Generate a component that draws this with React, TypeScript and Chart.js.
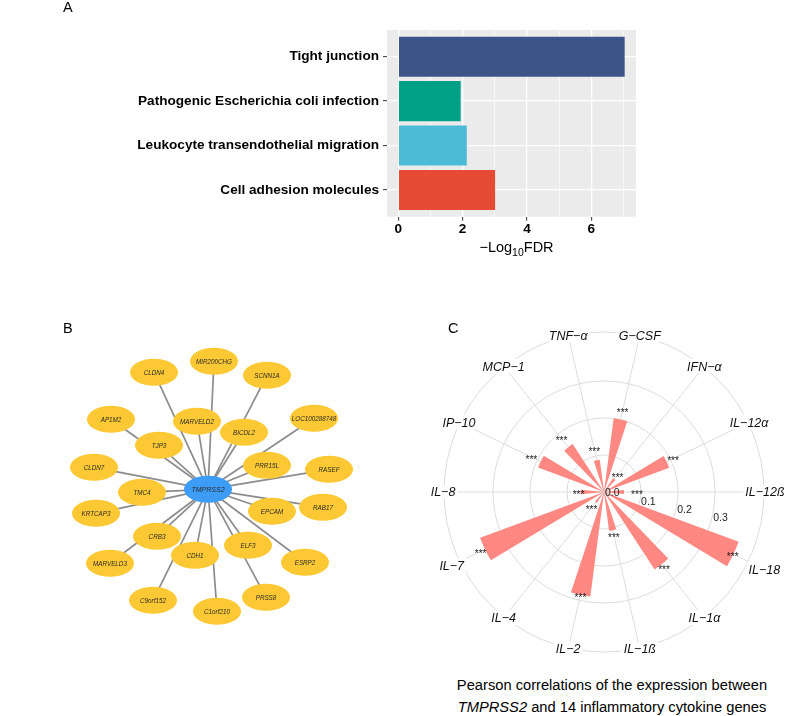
import React, { useEffect, useRef } from 'react';
import { Chart, registerables } from 'chart.js';

Chart.register(...registerables);

const FONT = "'Liberation Sans', Arial, Helvetica, sans-serif";

// ---------- Panel A: KEGG enrichment ----------
const pathways = [
  'Tight junction',
  'Pathogenic Escherichia coli infection',
  'Leukocyte transendothelial migration',
  'Cell adhesion molecules',
];
const negLog10FDR = [7.04, 1.94, 2.13, 3.01];
const pathwayColors = ['#3C5488', '#00A087', '#4DBBD5', '#E64B35'];
const fdrTickLabels = [0, 2, 4, 6];

// ---------- Panel B: co-expression network ----------
const hubGene = 'TMPRSS2';
const partnerGenes = [
  'MIR200CHG', 'CLDN4', 'SCNN1A', 'AP1M2', 'MARVELD2', 'LOC100288748', 'BICDL2',
  'TJP3', 'CLDN7', 'PRR15L', 'RASEF', 'TMC4', 'KRTCAP3', 'RAB17', 'EPCAM',
  'CRB3', 'ELF3', 'CDH1', 'MARVELD3', 'ESRP2', 'C9orf152', 'PRSS8', 'C1orf210',
];
// layout coordinates of the partner nodes (hub at 0,0)
const partnerX = [6, -54, 59, -97, -11, 106, 36, -49, -114, 59, 121, -66, -112, 115, 64, -51, 40, -13, -98, 97, -55, 58, 9];
const partnerY = [-128, -117, -114, -70, -68, -71, -57, -44, -22, -24, -20, 3, 24, 18, 22, 47, 56, 66, 74, 73, 111, 108, 122];

// ---------- Panel C: Pearson correlations ----------
const cytokines = [
  'G−CSF', 'IFN−α', 'IL−12α', 'IL−12ß', 'IL−18', 'IL−1α', 'IL−1ß',
  'IL−2', 'IL−4', 'IL−7', 'IL−8', 'IP−10', 'MCP−1', 'TNF−α',
];
const pearsonR = [0.201, 0.045, 0.188, 0.054, 0.388, 0.25, 0.106, 0.285, 0.035, 0.357, 0.063, 0.19, 0.155, 0.088];
const starR = [0.226, 0.059, 0.207, 0.089, 0.386, 0.26, 0.12, 0.286, 0.054, 0.37, 0.069, 0.218, 0.184, 0.118];
const significance = ['***', '***', '***', '***', '***', '***', '***', '***', '***', '***', '***', '***', '***', '***'];
const rTicks = [0, 0.1, 0.2, 0.3];
const rOuter = 0.4324;

// styling constants
const SECTOR = 360 / cytokines.length;
const BAR_W = 10.8;
const labelNudge = [0, 0, 0, 0, 17, 0, 0, 0, 0, 8, 0, 0, 0, 0];

const panelBgPlugin = {
  id: 'panelBg',
  beforeDraw(chart: any) {
    const { ctx, chartArea } = chart;
    ctx.save();
    ctx.fillStyle = '#EBEBEB';
    ctx.fillRect(chartArea.left, chartArea.top, chartArea.right - chartArea.left, chartArea.bottom - chartArea.top);
    ctx.restore();
  },
};

const fdrTitlePlugin = {
  id: 'fdrTitle',
  afterDraw(chart: any) {
    const { ctx, chartArea } = chart;
    const p1 = '−Log', sub = '10', p2 = 'FDR';
    const fMain = `14.5px ${FONT}`;
    const fSub = `10.5px ${FONT}`;
    ctx.save();
    ctx.font = fMain;
    const w1 = ctx.measureText(p1).width;
    const w3 = ctx.measureText(p2).width;
    ctx.font = fSub;
    const w2 = ctx.measureText(sub).width;
    const cx = (chartArea.left + chartArea.right) / 2 + 5;
    let x = cx - (w1 + w2 + w3) / 2;
    const y = chartArea.bottom + 35;
    ctx.fillStyle = '#000';
    ctx.textAlign = 'left';
    ctx.textBaseline = 'alphabetic';
    ctx.font = fMain;
    ctx.fillText(p1, x, y);
    x += w1;
    ctx.font = fSub;
    ctx.fillText(sub, x, y + 4);
    x += w2;
    ctx.font = fMain;
    ctx.fillText(p2, x, y);
    ctx.restore();
  },
};

const nodePlugin = {
  id: 'nodes',
  afterDatasetsDraw(chart: any) {
    const { ctx } = chart;
    const meta = chart.getDatasetMeta(chart.data.datasets.length - 1);
    const names = [hubGene, ...partnerGenes];
    ctx.save();
    meta.data.forEach((pt: any, i: number) => {
      const hub = i === 0;
      ctx.beginPath();
      ctx.ellipse(pt.x, pt.y, 24, 13.5, 0, 0, Math.PI * 2);
      ctx.fillStyle = hub ? '#3D9DF6' : '#FCC934';
      ctx.fill();
      ctx.fillStyle = '#2a2a2a';
      ctx.font = hub ? `italic 7px ${FONT}` : `italic 6.3px ${FONT}`;
      ctx.textAlign = 'center';
      ctx.textBaseline = 'middle';
      ctx.fillText(names[i], pt.x, pt.y + 0.5);
    });
    ctx.restore();
  },
};

const polarTextPlugin = {
  id: 'polarText',
  afterDraw(chart: any) {
    const scale = chart.scales.r;
    const { ctx } = chart;
    ctx.save();
    // significance stars
    ctx.font = `10px ${FONT}`;
    ctx.fillStyle = '#1a1a1a';
    ctx.textAlign = 'center';
    ctx.textBaseline = 'alphabetic';
    cytokines.forEach((_, k) => {
      const p = scale.getPointPositionForValue(2 * k + 1, starR[k]);
      ctx.fillText(significance[k], p.x, p.y + 5.6);
    });
    // radial value labels, between IL-12ß and IL-18
    const rLabelIndex = 8;
    ctx.font = `10.5px ${FONT}`;
    ctx.fillStyle = '#222';
    ctx.textAlign = 'left';
    ctx.textBaseline = 'middle';
    rTicks.forEach((v) => {
      const p = scale.getPointPositionForValue(rLabelIndex, v);
      ctx.fillText(v.toFixed(1), p.x + 1, p.y + 1.5);
    });
    // category labels
    ctx.font = `italic 12.5px ${FONT}`;
    ctx.textAlign = 'center';
    ctx.textBaseline = 'middle';
    const outer = scale.getDistanceFromCenterForValue(rOuter);
    cytokines.forEach((c, k) => {
      const p = scale.getPointPosition(2 * k + 1, outer + 1 + labelNudge[k]);
      const w = ctx.measureText(c).width;
      ctx.fillStyle = '#fff';
      ctx.fillRect(p.x - w / 2 - 2, p.y - 7, w + 4, 14);
      ctx.fillStyle = '#111';
      ctx.fillText(c, p.x, p.y + 1);
    });
    ctx.restore();
  },
};

export default function App() {
  const aRef = useRef<HTMLCanvasElement>(null);
  const bRef = useRef<HTMLCanvasElement>(null);
  const cRef = useRef<HTMLCanvasElement>(null);

  useEffect(() => {
    const isEven = (c: any) => c.tick && fdrTickLabels.includes(c.tick.value);

    const chartA = new Chart(aRef.current as HTMLCanvasElement, {
      type: 'bar',
      data: {
        datasets: [
          {
            data: pathways.map((_, i) => ({ x: negLog10FDR[i], y: i })),
            backgroundColor: pathwayColors,
            borderWidth: 0,
            barPercentage: 0.9,
            categoryPercentage: 1,
          },
        ],
      },
      options: {
        indexAxis: 'y',
        animation: false,
        responsive: false,
        devicePixelRatio: 1,
        layout: { padding: { top: 30, right: 151, left: 0, bottom: 0 } },
        plugins: { legend: { display: false }, tooltip: { enabled: false } },
        scales: {
          x: {
            type: 'linear',
            min: -0.352,
            max: 7.392,
            border: { display: false },
            grid: {
              color: '#FFFFFF',
              lineWidth: (c: any) => (isEven(c) ? 1.3 : 0.6),
              tickColor: (c: any) => (isEven(c) ? '#333333' : 'rgba(0,0,0,0)'),
              tickLength: 4,
              tickWidth: 1,
            },
            ticks: {
              stepSize: 1,
              includeBounds: false,
              autoSkip: false,
              maxRotation: 0,
              padding: 0,
              color: '#000',
              font: { family: FONT, size: 13.6, weight: 'bold' },
              callback: (v: any) => (fdrTickLabels.includes(v) ? String(v) : ''),
            },
            afterFit: (s: any) => {
              s.height = 53.3;
            },
          },
          y: {
            type: 'linear',
            reverse: true,
            min: -0.6,
            max: 3.6,
            offset: false,
            border: { display: false },
            grid: { color: '#FFFFFF', lineWidth: 1.3, offset: false, tickColor: '#333333', tickLength: 4, tickWidth: 1 },
            ticks: {
              stepSize: 1,
              includeBounds: false,
              autoSkip: false,
              padding: 4,
              color: '#000',
              font: { family: FONT, size: 13.6, weight: 'bold' },
              callback: (v: any) => pathways[v] ?? '',
            },
            afterFit: (s: any) => {
              s.width = 387;
            },
          },
        },
      } as any,
      plugins: [panelBgPlugin, fdrTitlePlugin],
    });

    const chartB = new Chart(bRef.current as HTMLCanvasElement, {
      type: 'scatter',
      data: {
        datasets: [
          ...partnerGenes.map((_, i) => ({
            data: [
              { x: 0, y: 0 },
              { x: partnerX[i], y: partnerY[i] },
            ],
            showLine: true,
            borderColor: '#8C8C8C',
            borderWidth: 1.7,
            pointRadius: 0,
          })),
          {
            data: [{ x: 0, y: 0 }, ...partnerGenes.map((_, i) => ({ x: partnerX[i], y: partnerY[i] }))],
            pointRadius: 0,
            showLine: false,
          },
        ],
      },
      options: {
        animation: false,
        responsive: false,
        devicePixelRatio: 1,
        layout: { padding: 0 },
        plugins: { legend: { display: false }, tooltip: { enabled: false } },
        scales: {
          x: { type: 'linear', display: false, min: -148, max: 152 },
          y: { type: 'linear', display: false, min: -149.3, max: 150.7, reverse: true },
        },
      } as any,
      plugins: [nodePlugin],
    });

    const chartC = new Chart(cRef.current as HTMLCanvasElement, {
      type: 'polarArea',
      data: {
        labels: cytokines.flatMap((c) => ['', c]),
        datasets: [
          {
            data: pearsonR.flatMap((v) => [0, v, 0]),
            backgroundColor: (c: any) => (c.dataIndex % 3 === 1 ? '#FF8882' : 'rgba(0,0,0,0)'),
            borderWidth: 0,
            angle: (c: any) => (c.dataIndex % 3 === 1 ? BAR_W : (SECTOR - BAR_W) / 2),
          } as any,
        ],
      },
      options: {
        animation: false,
        responsive: false,
        devicePixelRatio: 1,
        layout: { padding: 20 },
        plugins: { legend: { display: false }, tooltip: { enabled: false } },
        scales: {
          r: {
            min: 0,
            max: rOuter,
            startAngle: 0,
            afterBuildTicks: (s: any) => {
              s.ticks = [...rTicks, rOuter].map((v) => ({ value: v }));
            },
            ticks: { display: false },
            grid: { circular: true, color: '#DCDCDC', lineWidth: 1 },
            angleLines: {
              display: true,
              color: '#DCDCDC',
              lineWidth: (c: any) => (c.index % 2 === 1 ? 1 : 0),
            },
            pointLabels: { display: false },
          },
        },
      } as any,
      plugins: [polarTextPlugin],
    });

    return () => {
      chartA.destroy();
      chartB.destroy();
      chartC.destroy();
    };
  }, []);

  const letter: React.CSSProperties = {
    position: 'absolute',
    fontSize: 14.5,
    lineHeight: '14.5px',
    fontFamily: FONT,
    color: '#000',
  };

  return (
    <div style={{ position: 'absolute', left: 0, top: 0, width: 787, height: 716, background: '#fff', overflow: 'hidden' }}>
      <canvas ref={aRef} width={787} height={270} style={{ position: 'absolute', left: 0, top: 0 }} />
      <canvas ref={bRef} width={300} height={300} style={{ position: 'absolute', left: 60, top: 340 }} />
      <canvas ref={cRef} width={360} height={360} style={{ position: 'absolute', left: 424, top: 312 }} />
      <div style={{ ...letter, left: 63, top: 0 }}>A</div>
      <div style={{ ...letter, left: 63, top: 321 }}>B</div>
      <div style={{ ...letter, left: 448, top: 321 }}>C</div>
      <div
        style={{
          position: 'absolute',
          left: 412,
          top: 675,
          width: 400,
          textAlign: 'center',
          fontFamily: FONT,
          fontSize: 14.7,
          lineHeight: '21.7px',
          color: '#000',
        }}
      >
        Pearson correlations of the expression between
        <br />
        <i>TMPRSS2</i> and 14 inflammatory cytokine genes
      </div>
    </div>
  );
}
